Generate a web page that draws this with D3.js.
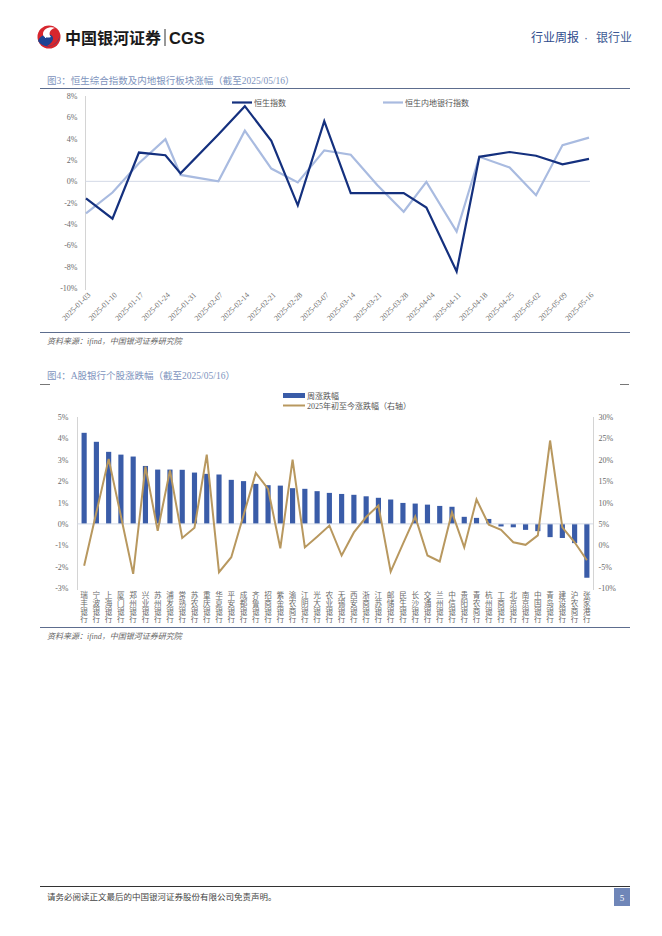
<!DOCTYPE html>
<html>
<head>
<meta charset="utf-8">
<script src="https://cdn.jsdelivr.net/npm/d3@7"></script>
<style>
body{margin:0;background:#fff;}
svg text{font-family:"Liberation Serif","Noto Sans CJK SC",serif;}
</style>
</head>
<body>
<svg id="page" width="662" height="936"></svg>
<script>
// ---- 图3 data (weekly, date axis) ----
const hsDates = ["2025-01-03","2025-01-10","2025-01-17","2025-01-24","2025-01-28","2025-02-07","2025-02-14",
  "2025-02-21","2025-02-28","2025-03-07","2025-03-14","2025-03-21","2025-03-28","2025-04-03","2025-04-11",
  "2025-04-17","2025-04-25","2025-05-02","2025-05-09","2025-05-16"];
const hsIndex = [-1.6,-3.5,2.7,2.45,0.75,4.4,7.05,3.8,-2.25,5.65,-1.1,-1.1,-1.1,-2.45,-8.45,2.3,2.75,2.4,1.6,2.1];
const hsBank  = [-3.0,-1.05,1.7,3.95,0.6,0.0,4.75,1.2,-0.1,2.9,2.5,-0.35,-2.85,-0.05,-4.7,2.3,1.3,-1.3,3.4,4.1];
const y1Ticks = [8,6,4,2,0,-2,-4,-6,-8,-10];
const seriesNames1 = ["恒生指数","恒生内地银行指数"];

// ---- 图4 data ----
const bankNames = ["瑞丰银行","宁波银行","上海银行","厦门银行","郑州银行","兴业银行","苏州银行","浦发银行",
  "常熟银行","苏农银行","重庆银行","华夏银行","平安银行","成都银行","齐鲁银行","招商银行","紫金银行",
  "渝农商行","江阴银行","光大银行","农业银行","无锡银行","西安银行","浙商银行","江苏银行","邮储银行",
  "民生银行","长沙银行","交通银行","兰州银行","中信银行","贵阳银行","青农商行","杭州银行","工商银行",
  "北京银行","南京银行","中国银行","青岛银行","建设银行","沪农商行","张家港行"];
const weekChg = [4.26,3.84,3.37,3.24,3.15,2.71,2.54,2.54,2.53,2.40,2.34,2.31,2.06,2.00,1.87,1.81,1.79,
  1.67,1.64,1.53,1.45,1.40,1.36,1.29,1.22,1.14,0.98,0.95,0.90,0.84,0.80,0.33,0.28,0.23,-0.12,
  -0.16,-0.28,-0.34,-0.62,-0.66,-0.90,-2.52];
const ytdChg = [-4.8,7.7,20.2,6.8,-6.7,18.4,3.4,17.5,1.7,4.1,21.2,-6.3,-2.8,7.0,16.9,13.2,-0.7,
  20.0,-0.5,2.0,4.6,-2.4,3.0,6.6,9.3,-6.2,0.3,6.7,-2.4,-3.8,7.7,-0.5,10.7,4.8,3.6,0.7,0.1,
  2.3,24.5,4.2,0.7,-3.5];
const yLeftTicks = [5,4,3,2,1,0,-1,-2,-3];
const yRightTicks = [30,25,20,15,10,5,0,-5,-10];
const seriesNames2 = ["周涨跌幅","2025年初至今涨跌幅（右轴）"];

const svg = d3.select("#page");
const navy = "#14307e", lightBlue = "#a9bbe0", barBlue = "#3a5ca8", tan = "#b8985f";
const titleColor = "#7d93bd", labelColor = "#6a6a6a";

// ---- header ----
const logo = svg.append("g").attr("transform", "translate(49,37)");
logo.append("circle").attr("r", 11.5).attr("fill", "#d7262e");
logo.append("path").attr("d", "M-11,4 C-9,-2 -2,-4 2,-2 C6,0 4,6 -2,9 C4,10 10,4 11,-2 C10,9 -4,14 -11,4Z").attr("fill", "#1d4394");
logo.append("path").attr("d", "M6,-9 C1,-11 -6,-8 -6,-3 C-6,1 -1,1 2,0 C-1,-3 1,-8 6,-9Z").attr("fill", "#fff");
svg.append("text").attr("x", 65).attr("y", 44).attr("font-size", 16).attr("font-weight", "bold")
  .style("font-family", "'Noto Sans CJK SC'").attr("fill", "#1a1a1a").text("中国银河证券");
svg.append("line").attr("x1", 165).attr("x2", 165).attr("y1", 29).attr("y2", 46).attr("stroke", "#333").attr("stroke-width", 1);
svg.append("text").attr("x", 169).attr("y", 44).attr("font-size", 16.5).attr("font-weight", "bold")
  .style("font-family", "'Liberation Sans'").attr("fill", "#1a1a1a").text("CGS");
svg.append("text").attr("x", 531).attr("y", 42).attr("font-size", 12).attr("fill", "#2d4a8c")
  .style("font-family", "'Noto Sans CJK SC'").text("行业周报");
svg.append("text").attr("x", 586).attr("y", 42).attr("font-size", 12).attr("fill", "#4a5f90")
  .attr("text-anchor", "middle").style("font-family", "'Liberation Sans'").text("·");
svg.append("text").attr("x", 596).attr("y", 42).attr("font-size", 12).attr("fill", "#3d5a94")
  .style("font-family", "'Noto Sans CJK SC'").text("银行业");

// ---- 图3 ----
svg.append("text").attr("x", 47).attr("y", 84).attr("font-size", 9.5).attr("fill", titleColor)
  .text("图3：恒生综合指数及内地银行板块涨幅（截至2025/05/16）");
svg.append("line").attr("x1", 40).attr("x2", 630).attr("y1", 88.5).attr("y2", 88.5).attr("stroke", "#5d6d8e");

const parse = d3.timeParse("%Y-%m-%d");
const dates = hsDates.map(parse);
const x1 = d3.scaleTime().domain([dates[0], dates[dates.length - 1]]).range([86, 589]);
const y1 = d3.scaleLinear().domain([-10, 8]).range([288, 96]);

const g1 = svg.append("g");
g1.append("g").attr("transform", "translate(85.5,0)")
  .call(d3.axisLeft(y1).tickValues(y1Ticks).tickSize(0).tickPadding(8).tickFormat(d => d + "%"))
  .call(g => g.select(".domain").attr("stroke", "#d4d4d4").attr("d", "M0,96V290"))
  .call(g => g.selectAll("text").attr("fill", labelColor).attr("font-size", 8)
    .style("font-family", "'Liberation Serif'"));
g1.append("line").attr("x1", 85.5).attr("x2", 590).attr("y1", y1(0)).attr("y2", y1(0))
  .attr("stroke", "#d3d9e6").attr("stroke-width", 1);

// weekly ticks every 7 days starting at the first date
const tickDates = d3.range(0, 20).map(i => d3.timeDay.offset(dates[0], i * 7));
const xAx1 = g1.append("g").attr("transform", "translate(0,291)")
  .call(d3.axisBottom(x1).tickValues(tickDates).tickSize(0).tickFormat(d3.timeFormat("%Y-%m-%d")));
xAx1.select(".domain").remove();
xAx1.selectAll("text").attr("fill", labelColor).attr("font-size", 7.8)
  .style("font-family", "'Liberation Serif'")
  .attr("text-anchor", "end").attr("dy", "0.3em").attr("dx", 0).attr("y", 4)
  .attr("transform", "rotate(-45)");

const line1 = d3.line().x((d, i) => x1(dates[i])).y(d => y1(d));
g1.append("path").datum(hsBank).attr("d", line1).attr("fill", "none")
  .attr("stroke", lightBlue).attr("stroke-width", 2.2).attr("stroke-linejoin", "miter");
g1.append("path").datum(hsIndex).attr("d", line1).attr("fill", "none")
  .attr("stroke", navy).attr("stroke-width", 2.2).attr("stroke-linejoin", "miter");

const leg1 = [{x: 232, c: navy}, {x: 383, c: lightBlue}];
leg1.forEach((l, i) => {
  g1.append("line").attr("x1", l.x).attr("x2", l.x + 20).attr("y1", 102.5).attr("y2", 102.5)
    .attr("stroke", l.c).attr("stroke-width", 2.2);
  g1.append("text").attr("x", l.x + 22).attr("y", 105.5).attr("font-size", 8).attr("fill", "#555")
    .text(seriesNames1[i]);
});

svg.append("line").attr("x1", 40).attr("x2", 630).attr("y1", 332.5).attr("y2", 332.5).attr("stroke", "#5d6d8e");
svg.append("text").attr("x", 47).attr("y", 344).attr("font-size", 8).attr("fill", "#666")
  .attr("font-style", "italic").text("资料来源：ifind，中国银河证券研究院");

// ---- 图4 ----
svg.append("text").attr("x", 47).attr("y", 379).attr("font-size", 9.5).attr("fill", titleColor)
  .text("图4：A股银行个股涨跌幅（截至2025/05/16）");
svg.append("line").attr("x1", 40).attr("x2", 50).attr("y1", 384.5).attr("y2", 384.5).attr("stroke", "#777");
svg.append("line").attr("x1", 620).attr("x2", 629).attr("y1", 384.5).attr("y2", 384.5).attr("stroke", "#777");

const x2 = d3.scaleBand().domain(bankNames).range([78, 593]).paddingInner(0.58).paddingOuter(0.29);
const yL = d3.scaleLinear().domain([-3, 5]).range([588, 417]);
const yR = d3.scaleLinear().domain([-10, 30]).range([588, 417]);

const g2 = svg.append("g");
g2.append("g").attr("transform", "translate(77.5,0)")
  .call(d3.axisLeft(yL).tickValues(yLeftTicks).tickSize(0).tickPadding(9).tickFormat(d => d + "%"))
  .call(g => g.select(".domain").attr("stroke", "#d4d4d4").attr("d", "M0,417V590"))
  .call(g => g.selectAll("text").attr("fill", labelColor).attr("font-size", 8)
    .style("font-family", "'Liberation Serif'"));
g2.append("g").attr("transform", "translate(593.5,0)")
  .call(d3.axisRight(yR).tickValues(yRightTicks).tickSize(0).tickPadding(5).tickFormat(d => d + "%"))
  .call(g => g.select(".domain").attr("stroke", "#d4d4d4").attr("d", "M0,417V590"))
  .call(g => g.selectAll("text").attr("fill", labelColor).attr("font-size", 8)
    .style("font-family", "'Liberation Serif'"));

g2.selectAll("rect.bar").data(weekChg).enter().append("rect").attr("class", "bar")
  .attr("x", (d, i) => x2(bankNames[i]))
  .attr("width", x2.bandwidth())
  .attr("y", d => yL(Math.max(0, d)))
  .attr("height", d => Math.abs(yL(d) - yL(0)))
  .attr("fill", barBlue);

g2.append("line").attr("x1", 77.5).attr("x2", 593).attr("y1", yL(0)).attr("y2", yL(0))
  .attr("stroke", "#d3d9e6").attr("stroke-width", 1);

const line2 = d3.line().x((d, i) => x2(bankNames[i]) + x2.bandwidth() / 2).y(d => yR(d));
g2.append("path").datum(ytdChg).attr("d", line2).attr("fill", "none")
  .attr("stroke", tan).attr("stroke-width", 2).attr("stroke-linejoin", "miter");

// vertical category labels (vertical writing mode, one text per bank)
g2.selectAll("text.lab").data(bankNames).enter().append("text").attr("class", "lab")
  .attr("x", d => x2(d) + x2.bandwidth() / 2).attr("y", 591)
  .style("writing-mode", "vertical-rl").style("text-orientation", "upright")
  .attr("font-size", 7.6).attr("letter-spacing", 0.6).attr("fill", labelColor)
  .style("font-family", "'Noto Sans CJK SC'")
  .text(d => d);

// legend
g2.append("rect").attr("x", 283).attr("y", 393).attr("width", 22).attr("height", 5).attr("fill", barBlue);
g2.append("text").attr("x", 307).attr("y", 399).attr("font-size", 8).attr("fill", "#555").text(seriesNames2[0]);
g2.append("line").attr("x1", 283).attr("x2", 305).attr("y1", 405.5).attr("y2", 405.5).attr("stroke", tan).attr("stroke-width", 2);
g2.append("text").attr("x", 307).attr("y", 408.5).attr("font-size", 8).attr("fill", "#555").text(seriesNames2[1]);

svg.append("line").attr("x1", 40).attr("x2", 630).attr("y1", 627.5).attr("y2", 627.5).attr("stroke", "#5d6d8e");
svg.append("text").attr("x", 47).attr("y", 639).attr("font-size", 8).attr("fill", "#666")
  .attr("font-style", "italic").text("资料来源：ifind，中国银河证券研究院");

// ---- footer ----
svg.append("line").attr("x1", 40).attr("x2", 630).attr("y1", 886.5).attr("y2", 886.5).attr("stroke", "#333");
svg.append("text").attr("x", 47).attr("y", 900).attr("font-size", 8.5).attr("fill", "#444")
  .text("请务必阅读正文最后的中国银河证券股份有限公司免责声明。");
svg.append("rect").attr("x", 614).attr("y", 888).attr("width", 16).attr("height", 18).attr("fill", "#6f86b8");
svg.append("text").attr("x", 622).attr("y", 901).attr("text-anchor", "middle").attr("font-size", 9)
  .attr("fill", "#fff").text("5");
</script>
</body>
</html>
